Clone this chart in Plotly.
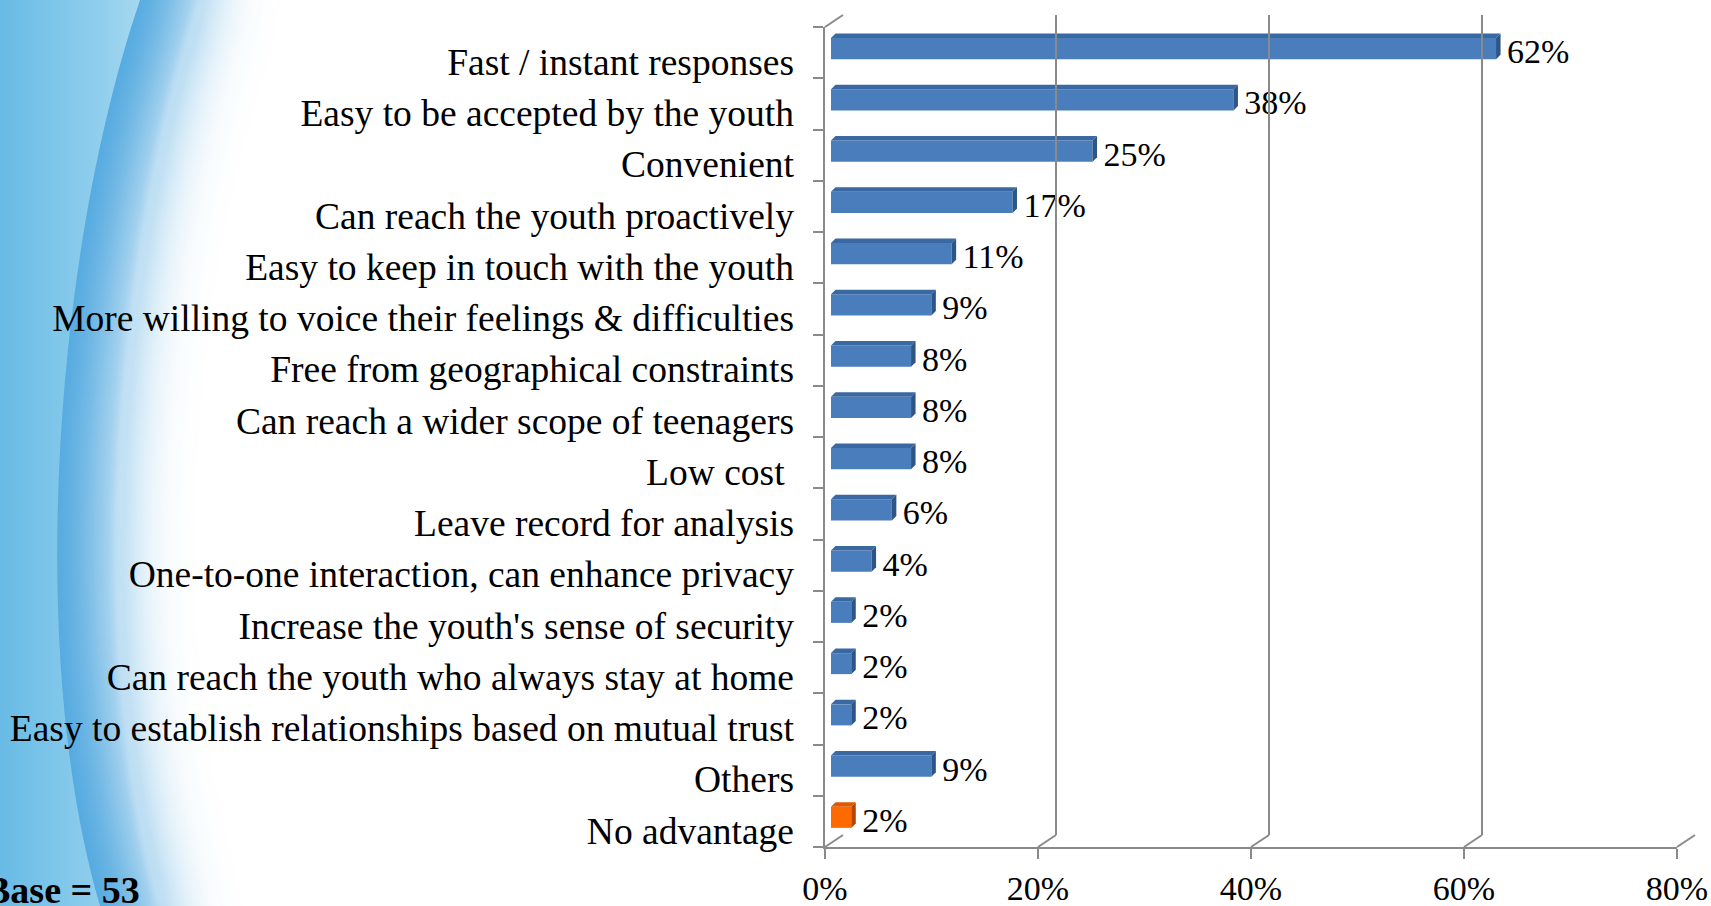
import base64
import plotly.graph_objects as go

W, H = 1711, 906

# ---------------------------------------------------------------------------
# Data (top to bottom)
# ---------------------------------------------------------------------------
CATEGORIES = [
    "Fast / instant responses",
    "Easy to be accepted by the youth",
    "Convenient",
    "Can reach the youth proactively",
    "Easy to keep in touch with the youth",
    "More willing to voice their feelings & difficulties",
    "Free from geographical constraints",
    "Can reach a wider scope of teenagers",
    "Low cost\u00a0",
    "Leave record for analysis",
    "One-to-one interaction, can enhance privacy",
    "Increase the youth's sense of security",
    "Can reach the youth who always stay at home",
    "Easy to establish relationships based on mutual trust",
    "Others",
    "No advantage",
]
SHARES = [62.3, 37.7, 24.5, 17.0, 11.3, 9.4, 7.5, 7.5, 7.5, 5.7, 3.8, 1.9, 1.9, 1.9, 9.4, 1.9]
SHARE_LABELS = ["62%", "38%", "25%", "17%", "11%", "9%", "8%", "8%", "8%", "6%", "4%",
                "2%", "2%", "2%", "9%", "2%"]
X_TICKS = [0, 20, 40, 60, 80]
X_TICK_TEXT = ["0%", "20%", "40%", "60%", "80%"]
BASE_NOTE = "Base = 53"
HIGHLIGHT = "No advantage"

# ---------------------------------------------------------------------------
# Frame geometry (pixels)
# ---------------------------------------------------------------------------
FRONT_X0, FRONT_X1 = 825, 1677      # 0% .. 80% on the front axis
FRONT_TOP, FRONT_BOT = 27, 847
DEPTH_X, DEPTH_Y = 18, 12            # back wall offset
BAR_X0, BAR_X1 = 831, 1685           # bar scale 0 .. 80
BAR_LIFT = 2                         # bars sit slightly above category centre
VALUE_DROP = 4                       # value labels slightly below it
LABEL_DROP = 9
BAR_W = 0.41
FACE = 4.5                           # 3D face depth in px
FONT = "Liberation Serif, Times New Roman, serif"
GRID = "#8a8a8a"

N = len(CATEGORIES)
RANGE_Y = [-0.5, N - 0.5]
row_px = (FRONT_BOT - FRONT_TOP) / N
unit_x = (BAR_X1 - BAR_X0) / 80.0


def px(p):
    return p / W


def py(p):
    return 1 - p / H


def ydom(top, bot):
    return [py(bot), py(top)]


pos = [N - 1 - i for i in range(N)]
lift = BAR_LIFT / row_px
dx, dy = FACE / unit_x, FACE / row_px

COLORS = {
    "blue": ("#4a7dbb", "#3a68a2", "#2d5585"),
    "orange": ("#ff6a00", "#e05800", "#b54600"),
}

# ---------------------------------------------------------------------------
# Background swoosh (svg data uri)
# ---------------------------------------------------------------------------
svg = f"""<svg xmlns="http://www.w3.org/2000/svg" width="{W}" height="{H}" viewBox="0 0 {W} {H}">
<defs>
<filter id="b" x="-50%" y="-50%" width="200%" height="200%"><feGaussianBlur stdDeviation="36"/></filter>
<filter id="s" x="-50%" y="-50%" width="200%" height="200%"><feGaussianBlur stdDeviation="3"/></filter>
<linearGradient id="g1" x1="0" y1="0" x2="1" y2="0">
<stop offset="0" stop-color="#5fb7e4"/><stop offset="0.75" stop-color="#92cfed"/><stop offset="1" stop-color="#a8d9f0"/>
</linearGradient>
</defs>
<rect width="{W}" height="{H}" fill="#ffffff"/>
<path d="M -300,-200 L 200,-200 L 195,0 C 105,250 75,650 155,906 L 170,1100 L -300,1100 Z" fill="#4ba5de" filter="url(#b)"/>
<path d="M 200,0 C 115,250 85,650 160,906" stroke="#ffffff" stroke-opacity="0.3" stroke-width="4" fill="none" filter="url(#s)"/>
<path d="M -20,-20 L 145,-20 L 140,0 C 55,250 25,650 100,906 L 104,930 L -20,930 Z" fill="url(#g1)"/>
</svg>"""
bg_uri = "data:image/svg+xml;base64," + base64.b64encode(svg.encode()).decode()

fig = go.Figure()

# front faces
bar_cols = [COLORS["orange" if c == HIGHLIGHT else "blue"][0] for c in CATEGORIES]
fig.add_trace(go.Bar(
    x=SHARES, y=[p + lift for p in pos], orientation="h", width=BAR_W,
    marker=dict(color=bar_cols, line=dict(width=0)),
    hoverinfo="skip", showlegend=False, xaxis="x", yaxis="y",
))

# top + side faces
for c, v, p in zip(CATEGORIES, SHARES, pos):
    _, top_c, side_c = COLORS["orange" if c == HIGHLIGHT else "blue"]
    yt, yb = p + lift + BAR_W / 2, p + lift - BAR_W / 2
    fig.add_trace(go.Scatter(
        x=[0, v, v + dx, dx, 0], y=[yt, yt, yt + dy, yt + dy, yt],
        fill="toself", fillcolor=top_c, mode="lines", line=dict(width=0, color=top_c),
        hoverinfo="skip", showlegend=False, xaxis="x", yaxis="y",
    ))
    fig.add_trace(go.Scatter(
        x=[v, v, v + dx, v + dx, v], y=[yb, yt, yt + dy, yb + dy, yb],
        fill="toself", fillcolor=side_c, mode="lines", line=dict(width=0, color=side_c),
        hoverinfo="skip", showlegend=False, xaxis="x", yaxis="y",
    ))

# value labels
fig.add_trace(go.Scatter(
    x=[v + dx + 0.6 for v in SHARES], y=[p - VALUE_DROP / row_px for p in pos],
    mode="text", text=SHARE_LABELS,
    textposition="middle right", textfont=dict(family=FONT, size=34, color="#000000"),
    hoverinfo="skip", showlegend=False, cliponaxis=False, xaxis="x", yaxis="y",
))

# placeholders so the frame / label / back-wall axes get their subplots
for xa, ya in (("x2", "y2"), ("x2", "y3"), ("x3", "y4")):
    fig.add_trace(go.Scatter(x=[None], y=[None], mode="markers", hoverinfo="skip",
                             showlegend=False, xaxis=xa, yaxis=ya))

fig.update_layout(
    width=W, height=H, template="none",
    margin=dict(l=0, r=0, t=0, b=0),
    paper_bgcolor="#ffffff", plot_bgcolor="rgba(0,0,0,0)",
    font=dict(family=FONT, color="#000000"),
    showlegend=False,
    # bars
    xaxis=dict(domain=[px(BAR_X0), px(BAR_X1)], range=[0, 80], visible=False, fixedrange=True),
    yaxis=dict(domain=ydom(FRONT_TOP - BAR_LIFT, FRONT_BOT - BAR_LIFT), range=RANGE_Y,
               visible=False, fixedrange=True),
    # front axes
    xaxis2=dict(domain=[px(FRONT_X0), px(FRONT_X1)], range=[0, 80], anchor="y2",
                tickmode="array", tickvals=X_TICKS, ticktext=X_TICK_TEXT,
                ticks="outside", ticklen=10, tickwidth=2, tickcolor=GRID,
                showline=True, linecolor=GRID, linewidth=2, showgrid=False, zeroline=False,
                tickfont=dict(family=FONT, size=34, color="#000000"), ticklabelstandoff=0,
                automargin=False),
    yaxis2=dict(domain=ydom(FRONT_TOP, FRONT_BOT), range=RANGE_Y, anchor="x2",
                tickmode="array", tickvals=[k - 0.5 for k in range(N + 1)],
                ticks="outside", ticklen=10, tickwidth=2, tickcolor=GRID, showticklabels=False,
                showline=True, linecolor=GRID, linewidth=2, showgrid=False, zeroline=False,
                automargin=False),
    # category labels
    yaxis3=dict(domain=ydom(FRONT_TOP + LABEL_DROP, FRONT_BOT + LABEL_DROP), range=RANGE_Y,
                anchor="x2", tickmode="array", tickvals=pos, ticktext=CATEGORIES,
                ticks="", showline=False, showgrid=False, zeroline=False,
                tickfont=dict(family=FONT, size=37.5, color="#000000"), ticklabelstandoff=30,
                automargin=False),
    # back wall gridlines
    xaxis3=dict(domain=[px(FRONT_X0 + DEPTH_X), px(FRONT_X1 + DEPTH_X)], range=[0, 80],
                anchor="y4", tickmode="array", tickvals=X_TICKS, showticklabels=False,
                ticks="", showgrid=True, gridcolor=GRID, gridwidth=2, zeroline=False,
                showline=False, automargin=False),
    yaxis4=dict(domain=ydom(FRONT_TOP - DEPTH_Y, FRONT_BOT - DEPTH_Y), range=[0, 1],
                anchor="x3", visible=False),
    images=[dict(source=bg_uri, xref="paper", yref="paper", x=0, y=1, sizex=1, sizey=1,
                 xanchor="left", yanchor="top", sizing="stretch", layer="below")],
)

# depth connectors between front axis and back wall
scale_front = (FRONT_X1 - FRONT_X0) / 80.0
for t in X_TICKS:
    fx = FRONT_X0 + t * scale_front
    fig.add_shape(type="line", xref="paper", yref="paper",
                  x0=px(fx), y0=py(FRONT_BOT), x1=px(fx + DEPTH_X), y1=py(FRONT_BOT - DEPTH_Y),
                  line=dict(color=GRID, width=2))
fig.add_shape(type="line", xref="paper", yref="paper",
              x0=px(FRONT_X0), y0=py(FRONT_TOP), x1=px(FRONT_X0 + DEPTH_X), y1=py(FRONT_TOP - DEPTH_Y),
              line=dict(color=GRID, width=2))

fig.add_annotation(text="<b>" + BASE_NOTE + "</b>", xref="paper", yref="paper",
                   x=px(-17), y=py(890), xanchor="left", yanchor="middle", showarrow=False,
                   font=dict(family=FONT, size=38, color="#000000"))

# page body margin would shift the 1711x906 figure off the viewport
fig.write_html("out.html", config={"displayModeBar": False},
               post_script="document.body.style.margin='0';")
